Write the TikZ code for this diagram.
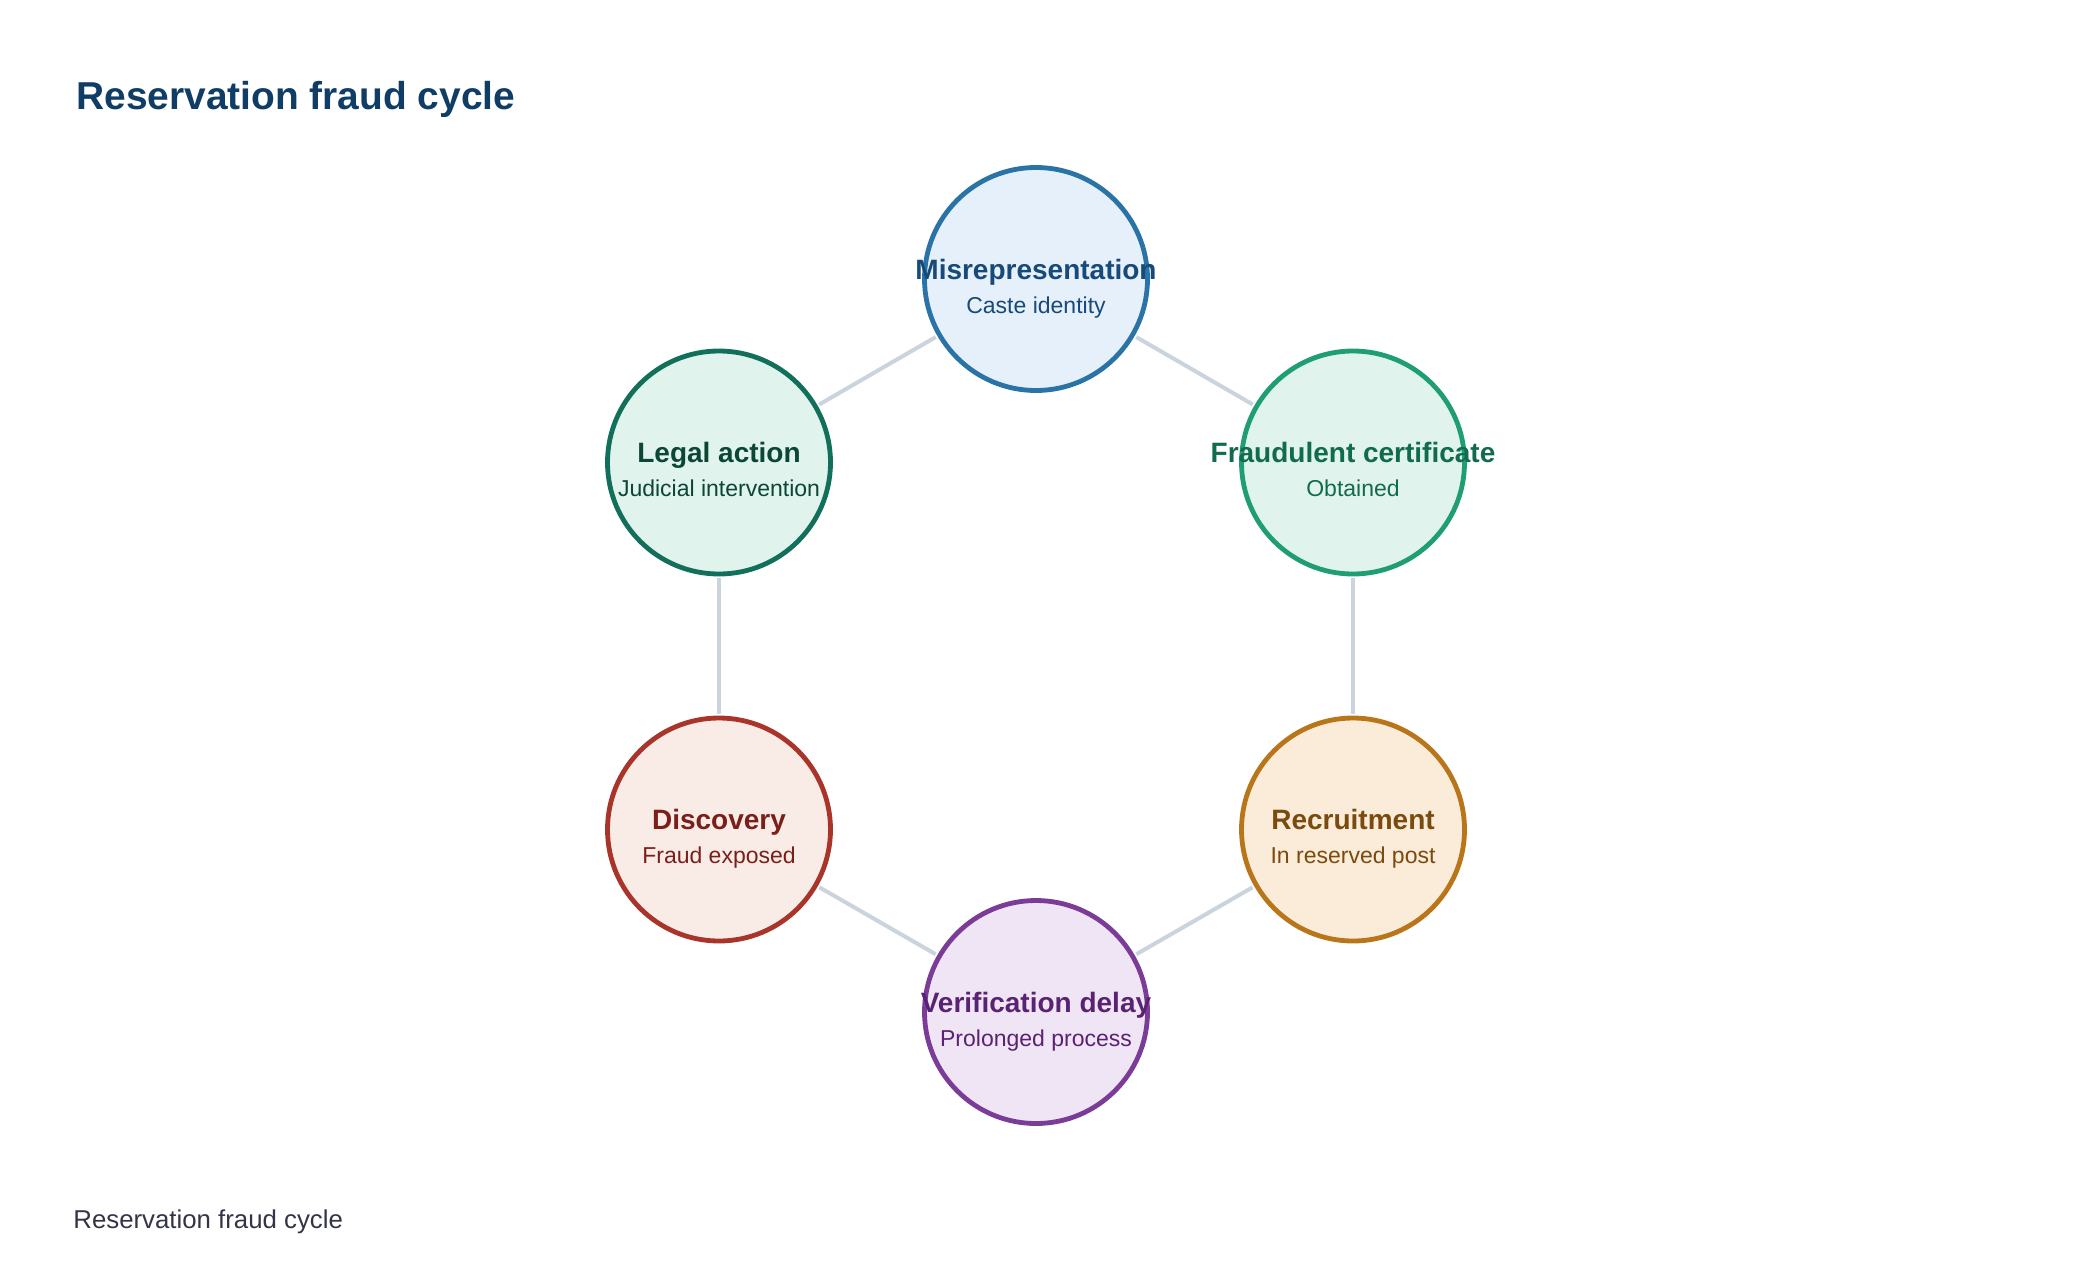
\documentclass[tikz,border=0pt]{standalone}
\usepackage{fontspec}
\setmainfont{Liberation Sans}
\usetikzlibrary{calc}

\definecolor{titleblue}{HTML}{0F3D66}
\definecolor{footgrey}{HTML}{343447}
\definecolor{linkgrey}{HTML}{CAD3DE}
\definecolor{misdraw}{HTML}{2A73A6}
\definecolor{misfill}{HTML}{E6F0FA}
\definecolor{mistext}{HTML}{174A78}
\definecolor{fraddraw}{HTML}{1F9E73}
\definecolor{fradfill}{HTML}{E0F3EC}
\definecolor{fradtext}{HTML}{116B4F}
\definecolor{recdraw}{HTML}{B8751A}
\definecolor{recfill}{HTML}{FAECD9}
\definecolor{rectext}{HTML}{7A4A0E}
\definecolor{verdraw}{HTML}{7B3C98}
\definecolor{verfill}{HTML}{EFE5F4}
\definecolor{vertext}{HTML}{5A2272}
\definecolor{disdraw}{HTML}{A8342A}
\definecolor{disfill}{HTML}{F9EBE6}
\definecolor{distext}{HTML}{7A1F1A}
\definecolor{legdraw}{HTML}{12705A}
\definecolor{legfill}{HTML}{E0F3EC}
\definecolor{legtext}{HTML}{0B4636}

\begin{document}
\begin{tikzpicture}[x=0.5pt,y=-0.5pt,
    stage/.style={circle,line width=2.4pt,minimum size=111.5pt,inner sep=0pt},
    head/.style={anchor=base,inner sep=0pt,font=\fontsize{14}{17}\selectfont\bfseries},
    sub/.style={anchor=base,inner sep=0pt,font=\fontsize{11.5}{14}\selectfont},
    link/.style={draw=linkgrey,line width=2pt,shorten <=1pt,shorten >=1pt}]
    \useasboundingbox (0,0) rectangle (2080,1284);

    \node[anchor=base west,inner sep=0pt,text=titleblue,font=\fontsize{19.45}{24}\selectfont\bfseries]
      (title) at (76,110) {Reservation fraud cycle};
    \node[anchor=base west,inner sep=0pt,text=footgrey,font=\fontsize{12.9}{16}\selectfont]
      (foot) at (73,1228) {Reservation fraud cycle};

    \node[stage,draw=misdraw,fill=misfill] (mis) at (1036,279) {};
    \node[stage,draw=fraddraw,fill=fradfill] (frad) at (1353,462.5) {};
    \node[stage,draw=recdraw,fill=recfill] (rec) at (1353,829.5) {};
    \node[stage,draw=verdraw,fill=verfill] (ver) at (1036,1012) {};
    \node[stage,draw=disdraw,fill=disfill] (dis) at (719,829.5) {};
    \node[stage,draw=legdraw,fill=legfill] (leg) at (719,462.5) {};

    \draw[link] (mis) -- (frad);
    \draw[link] (frad) -- (rec);
    \draw[link] (rec) -- (ver);
    \draw[link] (ver) -- (dis);
    \draw[link] (dis) -- (leg);
    \draw[link] (leg) -- (mis);

    \node[head,text=mistext] (mis-h) at (mis.center) {Misrepresentation};
    \node[sub,text=mistext] (mis-s) at ([yshift=-17pt]mis.center) {Caste identity};
    \node[head,text=fradtext] (frad-h) at (frad.center) {Fraudulent certificate};
    \node[sub,text=fradtext] (frad-s) at ([yshift=-17pt]frad.center) {Obtained};
    \node[head,text=rectext] (rec-h) at (rec.center) {Recruitment};
    \node[sub,text=rectext] (rec-s) at ([yshift=-17pt]rec.center) {In reserved post};
    \node[head,text=vertext] (ver-h) at (ver.center) {Verification delay};
    \node[sub,text=vertext] (ver-s) at ([yshift=-17pt]ver.center) {Prolonged process};
    \node[head,text=distext] (dis-h) at (dis.center) {Discovery};
    \node[sub,text=distext] (dis-s) at ([yshift=-17pt]dis.center) {Fraud exposed};
    \node[head,text=legtext] (leg-h) at (leg.center) {Legal action};
    \node[sub,text=legtext] (leg-s) at ([yshift=-17pt]leg.center) {Judicial intervention};
\end{tikzpicture}
\end{document}
